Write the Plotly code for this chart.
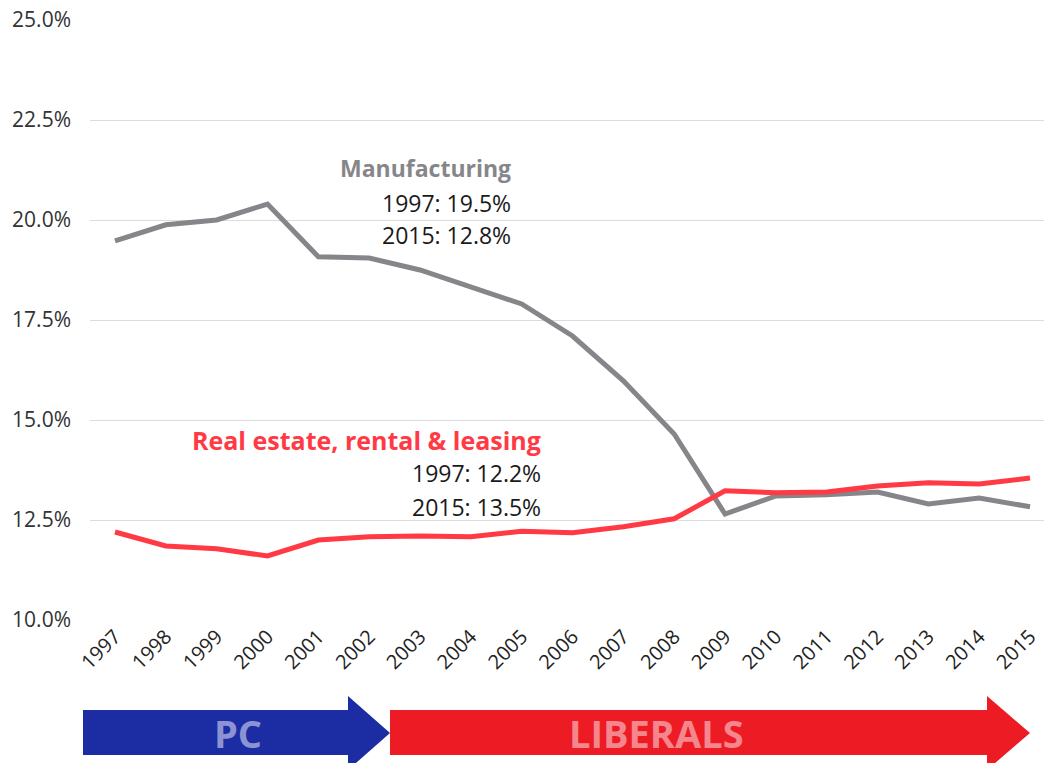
import plotly.graph_objects as go

years = list(range(1997, 2016))
manufacturing = [19.48, 19.88, 20.0, 20.4, 19.08, 19.05, 18.75, 18.33, 17.9, 17.1,
                 15.98, 14.65, 12.65, 13.1, 13.13, 13.2, 12.9, 13.05, 12.83]
real_estate = [12.2, 11.85, 11.78, 11.6, 12.0, 12.08, 12.1, 12.08, 12.22, 12.18,
               12.33, 12.53, 13.23, 13.18, 13.2, 13.35, 13.43, 13.4, 13.55]
y_ticks = [10, 12.5, 15, 17.5, 20, 22.5, 25]

GRAY = "#86868a"
RED = "#ff3a45"
FONT = "Open Sans"

W, H = 1044, 763
L, R, T, B = 90, 0, 20, 143
PW, PH = W - L - R, H - T - B


def px(x):
    return (x - L) / PW


def py(y):
    return (H - B - y) / PH


fig = go.Figure()
fig.add_trace(go.Scatter(x=years, y=manufacturing, mode="lines",
                         line=dict(color=GRAY, width=5), hoverinfo="skip"))
fig.add_trace(go.Scatter(x=years, y=real_estate, mode="lines",
                         line=dict(color=RED, width=5), hoverinfo="skip"))

shapes = []


def arrow(x0, x1, xh, color):
    yt, yb = 710, 755
    ht, hb, ym = 696, 770, 733
    pts = [(x0, yt), (xh, yt), (xh, ht), (x1, ym), (xh, hb), (xh, yb), (x0, yb)]
    path = "M " + " L ".join(f"{px(a):.5f},{py(b):.5f}" for a, b in pts) + " Z"
    return dict(type="path", xref="paper", yref="paper", path=path,
                fillcolor=color, line=dict(width=0), layer="above")


shapes.append(arrow(83, 390, 348, "#1c2ca3"))
shapes.append(arrow(390, 1030, 987, "#ed1c24"))

NUMC = "#1a1a1a"
annotations = [
    dict(x=px(513), y=py(168), text="<b>Manufacturing</b>", font=dict(size=23, color=GRAY, family=FONT)),
    dict(x=px(513), y=py(203), text="1997: 19.5%", font=dict(size=23, color=NUMC, family=FONT)),
    dict(x=px(513), y=py(235), text="2015: 12.8%", font=dict(size=23, color=NUMC, family=FONT)),
    dict(x=px(543), y=py(440), text="<b>Real estate, rental &amp; leasing</b>", font=dict(size=25, color=RED, family=FONT)),
    dict(x=px(543), y=py(473), text="1997: 12.2%", font=dict(size=23, color=NUMC, family=FONT)),
    dict(x=px(543), y=py(507), text="2015: 13.5%", font=dict(size=23, color=NUMC, family=FONT)),
]
for a in annotations:
    a.update(xref="paper", yref="paper", xanchor="right", yanchor="middle", showarrow=False)

annotations.append(dict(xref="paper", yref="paper", x=px(238), y=py(733), text="<b>PC</b>",
                        showarrow=False, xanchor="center", yanchor="middle",
                        font=dict(size=38, color="#8c93d4", family=FONT)))
annotations.append(dict(xref="paper", yref="paper", x=px(656), y=py(733), text="<b>LIBERALS</b>",
                        showarrow=False, xanchor="center", yanchor="middle",
                        font=dict(size=38, color="#f5868d", family=FONT)))

fig.update_layout(
    width=W, height=H,
    margin=dict(l=L, r=R, t=T, b=B),
    paper_bgcolor="white", plot_bgcolor="white",
    showlegend=False,
    shapes=shapes,
    annotations=annotations,
    font=dict(family=FONT, color="#333333"),
    xaxis=dict(range=[1996.508, 2015.275], tickmode="array", tickvals=years,
               ticktext=[str(y) for y in years], tickangle=-45,
               tickfont=dict(size=20, color="#222222", family=FONT),
               showgrid=False, zeroline=False, showline=False, ticks=""),
    yaxis=dict(range=[10, 25], tickmode="array", tickvals=y_ticks,
               ticktext=[f"{v:.1f}%" for v in y_ticks],
               tickfont=dict(size=21, color="#333333", family=FONT),
               showgrid=True, gridcolor="#dcdcdc", gridwidth=1,
               zeroline=False, showline=False, ticks="", ticklabelstandoff=18),
)

fig.write_html("out.html")
